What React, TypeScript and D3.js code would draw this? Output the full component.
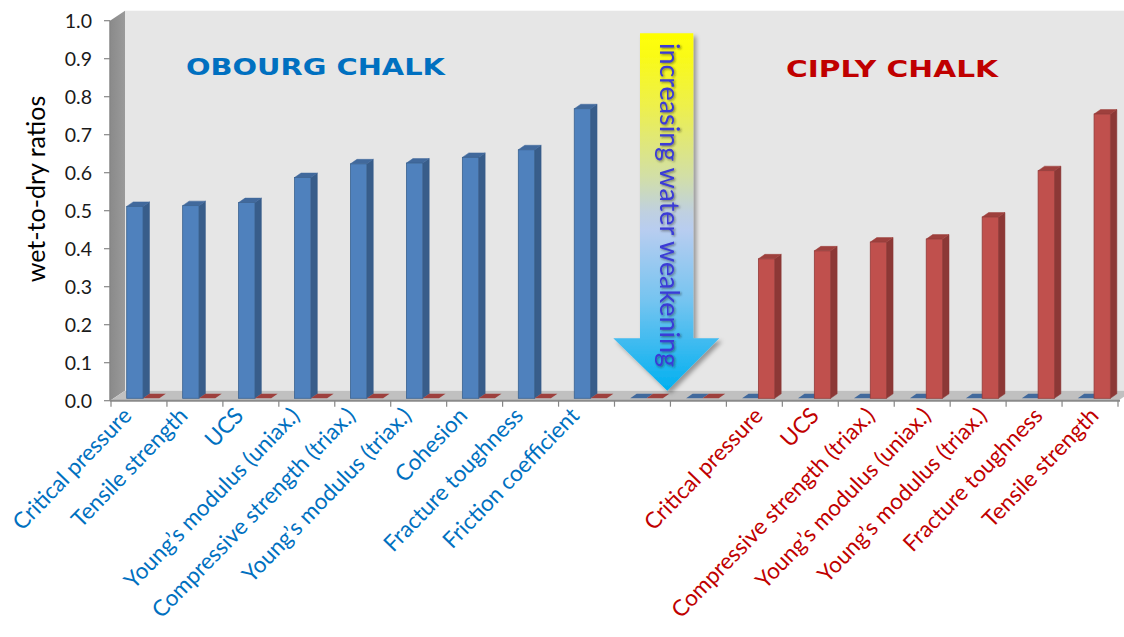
import React from "react";
import * as d3 from "d3";

// ---------- data ----------
const categories = [
  "Critical pressure",
  "Tensile strength",
  "UCS",
  "Young’s modulus (uniax.)",
  "Compressive strength (triax.)",
  "Young’s modulus (triax.)",
  "Cohesion",
  "Fracture toughness",
  "Friction coefficient",
  "",
  "",
  "Critical pressure",
  "UCS",
  "Compressive strength (triax.)",
  "Young’s modulus (uniax.)",
  "Young’s modulus (triax.)",
  "Fracture toughness",
  "Tensile strength",
];
const categoryGroup = [
  "obourg", "obourg", "obourg", "obourg", "obourg", "obourg", "obourg", "obourg", "obourg",
  "none", "none",
  "ciply", "ciply", "ciply", "ciply", "ciply", "ciply", "ciply",
];
const obourgValues = [0.505, 0.507, 0.515, 0.581, 0.617, 0.619, 0.634, 0.654, 0.762, 0, 0, 0, 0, 0, 0, 0, 0, 0];
const ciplyValues = [0, 0, 0, 0, 0, 0, 0, 0, 0, 0, 0, 0.367, 0.388, 0.411, 0.419, 0.477, 0.599, 0.748];
const seriesKeys = ["obourg", "ciply"];
const yTicks = [0, 0.1, 0.2, 0.3, 0.4, 0.5, 0.6, 0.7, 0.8, 0.9, 1.0];
const yTitle = "wet-to-dry ratios";
const obourgTitle = "OBOURG CHALK";
const ciplyTitle = "CIPLY CHALK";
const arrowText = "increasing water weakening";

// ---------- styles ----------
const W = 1124;
const H = 637;
const WALL_DX = 15;
const WALL_DY = -10;
const BAR_DX = 6.5;
const BAR_DY = -4.5;
const BAR_SHIFT = -2.4;
const colors: Record<string, { front: string; side: string; top: string; edge: string }> = {
  obourg: { front: "#4f81bd", side: "#385d8a", top: "#41699c", edge: "#3a6290" },
  ciply: { front: "#c0504d", side: "#8c3836", top: "#9e403d", edge: "#943c3a" },
};
const labelColor: Record<string, string> = { obourg: "#0070c0", ciply: "#c00000", none: "#000" };
const labelOffset: Record<string, number> = { obourg: -6, ciply: 10, none: 0 };

export default function App() {
  const x = d3.scaleBand<number>().domain(d3.range(categories.length)).range([111, 1118]);
  const xs = d3.scaleBand<string>().domain(seriesKeys).range([15.7, 48.3]);
  const y = d3.scaleLinear().domain([0, 1]).range([400.7, 20.7]);
  const barY = (v: number) => y(v) + BAR_SHIFT;
  const values: Record<string, number[]> = { obourg: obourgValues, ciply: ciplyValues };
  const bw = xs.bandwidth();

  const y0 = y(0);
  const y1 = y(1);
  const xLeft = x.range()[0] - 1;
  const xRight = x.range()[1];

  const bars: React.ReactNode[] = [];
  categories.forEach((_, i) => {
    seriesKeys.forEach((s) => {
      const v = values[s][i];
      const x0 = (x(i) as number) + (xs(s) as number);
      const yb = barY(0);
      const yt = barY(v);
      const c = colors[s];
      const key = `${i}-${s}`;
      if (v > 0) {
        bars.push(
          <g key={key}>
            <polygon
              points={`${x0 + bw},${yt} ${x0 + bw + BAR_DX},${yt + BAR_DY} ${x0 + bw + BAR_DX},${yb + BAR_DY} ${x0 + bw},${yb}`}
              fill={c.side}
              stroke={c.side}
              strokeWidth={0.5}
            />
            <polygon
              points={`${x0},${yt} ${x0 + BAR_DX},${yt + BAR_DY} ${x0 + bw + BAR_DX},${yt + BAR_DY} ${x0 + bw},${yt}`}
              fill={c.top}
              stroke={c.top}
              strokeWidth={0.5}
            />
            <rect x={x0} y={yt} width={bw} height={yb - yt} fill={c.front} stroke={c.edge} strokeWidth={0.8} />
          </g>
        );
      } else {
        bars.push(
          <polygon
            key={key}
            points={`${x0},${yb} ${x0 + bw},${yb} ${x0 + bw + BAR_DX},${yb + BAR_DY} ${x0 + BAR_DX},${yb + BAR_DY}`}
            fill={c.top}
          />
        );
      }
    });
  });

  return (
    <svg
      width={W}
      height={H}
      viewBox={`0 0 ${W} ${H}`}
      style={{ position: "absolute", left: 0, top: 0, background: "#fff" }}
    >
      <defs>
        <linearGradient id="arrowGrad" x1="0" y1="0" x2="0" y2="1">
          <stop offset="0" stopColor="#ffff00" />
          <stop offset="0.2" stopColor="#eef04a" />
          <stop offset="0.4" stopColor="#d2dfa6" />
          <stop offset="0.5" stopColor="#bfd0e0" />
          <stop offset="0.55" stopColor="#b8cdf0" />
          <stop offset="0.75" stopColor="#74c4f0" />
          <stop offset="1" stopColor="#00b0f0" />
        </linearGradient>
        <linearGradient id="sideGrad" x1="0" y1="0" x2="1" y2="0">
          <stop offset="0" stopColor="#8a8a8a" />
          <stop offset="1" stopColor="#9a9a9a" />
        </linearGradient>
        <filter id="shadow" x="-20%" y="-10%" width="140%" height="120%">
          <feDropShadow dx="3" dy="3" stdDeviation="2" floodColor="#000" floodOpacity="0.35" />
        </filter>
        <filter id="textShadow" x="-20%" y="-10%" width="140%" height="120%">
          <feDropShadow dx="1.2" dy="1.2" stdDeviation="0.8" floodColor="#222" floodOpacity="0.55" />
        </filter>
      </defs>

      {/* back wall */}
      <rect x={xLeft + WALL_DX} y={y1 + WALL_DY} width={W - (xLeft + WALL_DX)} height={y0 - y1} fill="#e6e6e6" />
      {/* side wall */}
      <polygon
        points={`${xLeft},${y1} ${xLeft + WALL_DX},${y1 + WALL_DY} ${xLeft + WALL_DX},${y0 + WALL_DY} ${xLeft},${y0}`}
        fill="url(#sideGrad)"
      />
      {/* floor */}
      <polygon
        points={`${xLeft},${y0} ${xLeft + WALL_DX},${y0 + WALL_DY} ${xRight + WALL_DX},${y0 + WALL_DY} ${xRight},${y0}`}
        fill="#c0c0c0"
      />

      {/* y axis */}
      <line x1={xLeft} x2={xLeft} y1={y1} y2={y0} stroke="#868686" strokeWidth={1.5} />
      {yTicks.map((t) => (
        <g key={t}>
          <line x1={xLeft - 6} x2={xLeft} y1={y(t)} y2={y(t)} stroke="#868686" strokeWidth={1.2} />
          <text
            x={92}
            y={y(t)}
            dy="0.35em"
            textAnchor="end"
            fontFamily="Lato, 'Open Sans', sans-serif"
            fontSize={19.5}
            fill="#1a1a1a"
          >
            {t.toFixed(1)}
          </text>
        </g>
      ))}
      <text
        transform={`translate(45, 189) rotate(-90)`}
        textAnchor="middle"
        fontFamily="Lato, 'Open Sans', sans-serif"
        fontSize={25}
        fill="#000"
      >
        {yTitle}
      </text>

      {/* x axis */}
      <line x1={xLeft} x2={xRight + 2} y1={y0} y2={y0} stroke="#8a8a8a" strokeWidth={2} />
      {d3.range(categories.length + 1).map((k) => {
        const xx = k < categories.length ? (x(k) as number) : xRight;
        return <line key={k} x1={xx} x2={xx} y1={y0} y2={y0 + 6} stroke="#868686" strokeWidth={1.2} />;
      })}

      {/* bars */}
      {bars}

      {/* x labels */}
      {categories.map((c, i) =>
        c ? (
          <text
            key={i}
            transform={`translate(${(x(i) as number) + x.bandwidth() / 2 + labelOffset[categoryGroup[i]]}, 417) rotate(-46)`}
            textAnchor="end"
            fontFamily="Lato, 'Open Sans', sans-serif"
            fontSize={22.5}
            fill={labelColor[categoryGroup[i]]}
          >
            {c}
          </text>
        ) : null
      )}

      {/* group titles */}
      <text
        x={186}
        y={75}
        textLength={259}
        lengthAdjust="spacingAndGlyphs"
        fontFamily="'DejaVu Sans', Verdana, sans-serif"
        fontWeight="bold"
        fontSize={23}
        fill="#0070c0"
      >
        {obourgTitle}
      </text>
      <text
        x={786}
        y={77}
        textLength={212}
        lengthAdjust="spacingAndGlyphs"
        fontFamily="'DejaVu Sans', Verdana, sans-serif"
        fontWeight="bold"
        fontSize={23}
        fill="#c00000"
      >
        {ciplyTitle}
      </text>

      {/* arrow */}
      <g filter="url(#shadow)">
        <polygon
          points={`640,33.3 693.3,33.3 693.3,338.3 719.3,338.3 667.3,${y0 + WALL_DY} 613.3,338.3 640,338.3`}
          fill="url(#arrowGrad)"
        />
      </g>
      <g filter="url(#textShadow)">
        <text
          transform="translate(660, 43) rotate(90)"
          textLength={324}
          lengthAdjust="spacingAndGlyphs"
          fontFamily="Lato, 'Open Sans', sans-serif"
          fontSize={26}
          fill="#3a3ad6"
        >
          {arrowText}
        </text>
      </g>
    </svg>
  );
}
